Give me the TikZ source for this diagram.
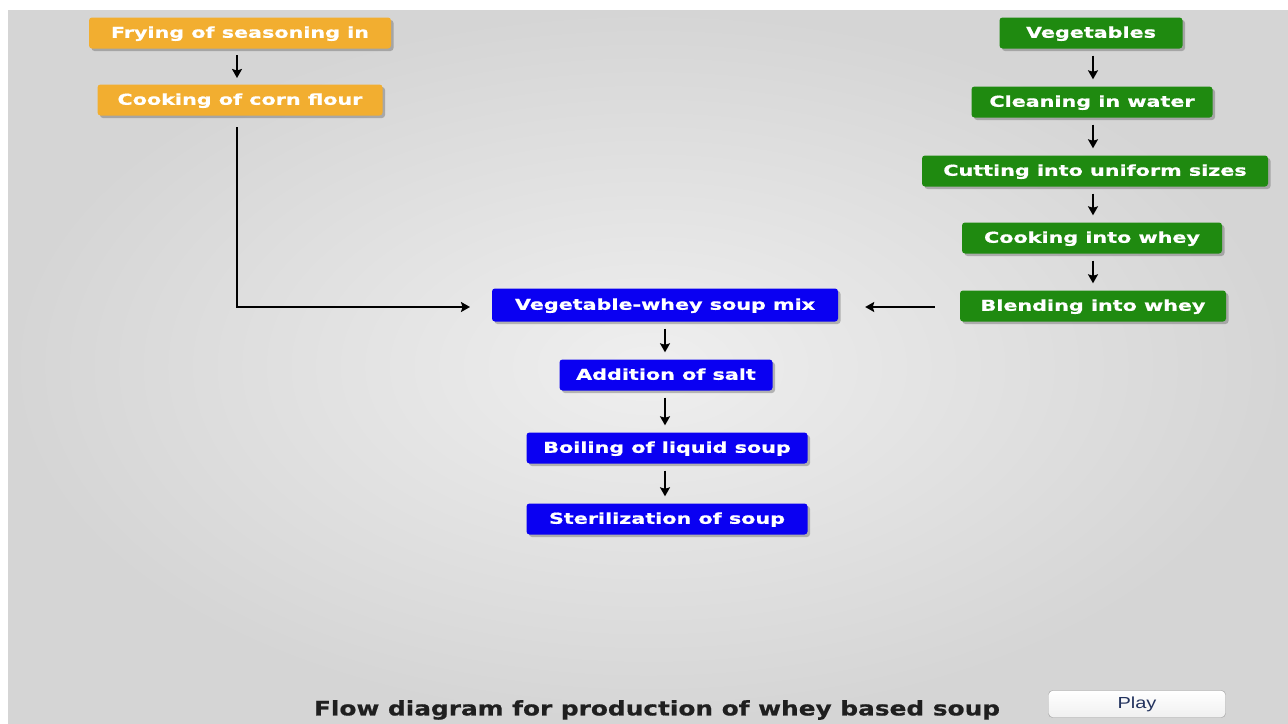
\documentclass[tikz,border=0pt]{standalone}
\usepackage{fontspec}
\setmainfont{DejaVu Sans}
\newfontfamily\boxfont[FakeStretch=1.38,FakeBold=0.8]{DejaVu Sans Bold}
\newfontfamily\titlefont[FakeStretch=1.24,FakeBold=0.6]{DejaVu Sans Bold}
\newfontfamily\playfont[FakeStretch=1.25]{Liberation Sans}
\usetikzlibrary{arrows.meta,shadows}
\definecolor{orangebox}{HTML}{F2AE30}
\definecolor{greenbox}{HTML}{1F8A10}
\definecolor{bluebox}{HTML}{0A00F2}
\definecolor{bgin}{HTML}{EFEFEF}
\definecolor{bgout}{HTML}{D5D5D5}
\definecolor{playtext}{HTML}{23335E}
\tikzset{
  stepbox/.style={rounded corners=3pt, text=white, font=\boxfont\fontsize{15}{17}\selectfont,
    minimum height=31pt, inner sep=0pt, anchor=center, text height=12.5pt, text depth=3pt,
    drop shadow={shadow xshift=2.5pt, shadow yshift=-2.5pt, opacity=0.35, fill=black!70}},
  obox/.style={stepbox, fill=orangebox},
  gbox/.style={stepbox, fill=greenbox},
  bbox/.style={stepbox, fill=bluebox},
  flow/.style={draw=black, line width=1.7pt, -{Stealth[length=9pt,width=10pt,inset=1.5pt]}},
  shortflow/.style={flow, shorten <=7pt, shorten >=7pt}
}
\begin{document}
\begin{tikzpicture}[x=1pt,y=-1pt]
\useasboundingbox (0,0) rectangle (1288,723);
\fill[white] (0,0) rectangle (1288,723);
\shade[inner color=bgin, outer color=bgout] (8,10) rectangle (1288,723);

% orange column
\node[obox, minimum width=302pt] (fry) at (240,33) {Frying of seasoning in};
\node[obox, minimum width=285pt] (corn) at (240,100) {Cooking of corn flour};

% green column
\node[gbox, minimum width=183pt] (veg) at (1091,33) {Vegetables};
\node[gbox, minimum width=241pt] (clean) at (1092,102) {Cleaning in water};
\node[gbox, minimum width=346pt] (cut) at (1095,171) {Cutting into uniform sizes};
\node[gbox, minimum width=260pt] (cookw) at (1092,238) {Cooking into whey};
\node[gbox, minimum width=266pt] (blend) at (1093,306) {Blending into whey};

% blue column
\node[bbox, minimum width=346pt, minimum height=33pt] (mix) at (665,305) {Vegetable-whey soup mix};
\node[bbox, minimum width=213pt] (salt) at (666,375) {Addition of salt};
\node[bbox, minimum width=281pt] (boil) at (667,448) {Boiling of liquid soup};
\node[bbox, minimum width=281pt] (ster) at (667,519) {Sterilization of soup};

% arrows
\draw[shortflow] (237,48) -- (237,85);
\coordinate (cornout) at (237,127);
\coordinate (bend) at (237,307);
\coordinate (mixin) at (470,307);
\draw[flow] (cornout) -- (bend) -- (mixin);

\draw[shortflow] (veg.south -| 1093,0) -- (clean.north -| 1093,0);
\draw[shortflow] (clean.south -| 1093,0) -- (cut.north -| 1093,0);
\draw[shortflow] (cut.south -| 1093,0) -- (cookw.north -| 1093,0);
\draw[shortflow] (cookw.south -| 1093,0) -- (blend.north -| 1093,0);
\draw[flow, shorten <=25pt, shorten >=27pt] (blend.west |- 0,307) -- (mix.east |- 0,307);

\draw[shortflow] (mix.south -| 665,0) -- (salt.north -| 665,0);
\draw[shortflow] (salt.south -| 665,0) -- (boil.north -| 665,0);
\draw[shortflow] (boil.south -| 665,0) -- (ster.north -| 665,0);

% title and button
\node[font=\titlefont\fontsize{20}{22}\selectfont, text=black!88, anchor=center] (title) at (657,710) {Flow diagram for production of whey based soup};
\node[draw=black!40, rounded corners=4pt, top color=white, bottom color=black!6,
  minimum width=177pt, minimum height=27pt, inner sep=0pt,
  font={\playfont\fontsize{16}{18}\selectfont}, text=playtext] (play) at (1137,704) {Play};
\end{tikzpicture}
\end{document}
